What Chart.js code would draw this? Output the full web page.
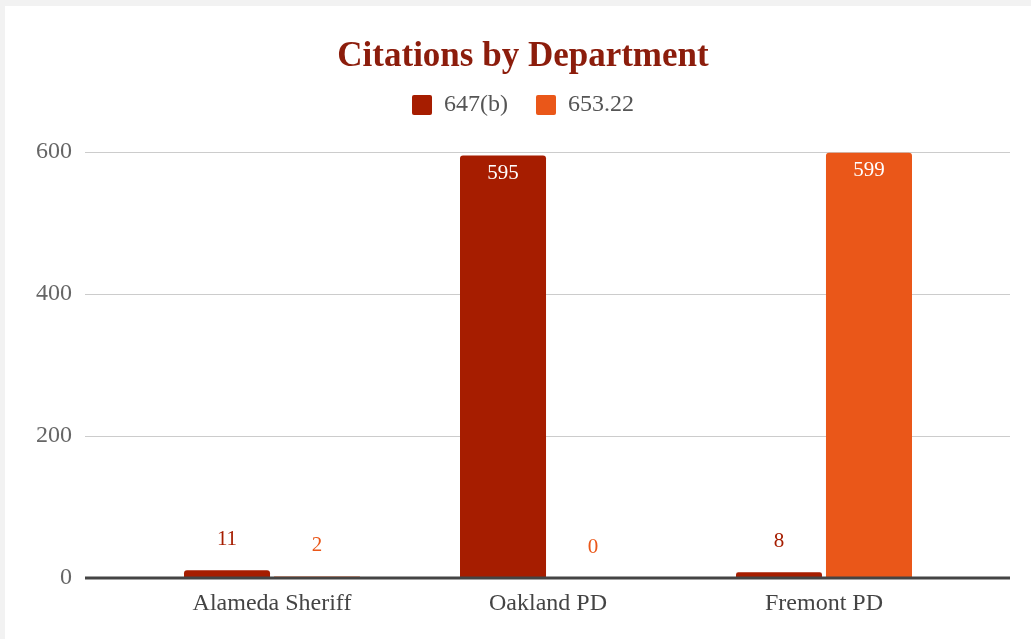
<!DOCTYPE html>
<html>
<head>
<meta charset="utf-8">
<script src="https://cdn.jsdelivr.net/npm/chart.js@4/dist/chart.umd.min.js"></script>
<style>
  html, body { margin: 0; padding: 0; background: #f2f2f2; overflow: hidden; }
  #wrap { position: absolute; left: 5px; top: 6px; width: 1026px; height: 633px; background: #ffffff; }
  canvas { display: block; }
</style>
</head>
<body>
<div id="wrap"><canvas id="c" width="1026" height="633"></canvas></div>
<script>
const categories = ['Alameda Sheriff', 'Oakland PD', 'Fremont PD'];
const series647b = [11, 595, 8];
const series65322 = [2, 0, 599];
const seriesNames = ['647(b)', '653.22'];
const yTicks = [0, 200, 400, 600];

const colors = ['#a61d00', '#ea5719'];
const FONT = "'Liberation Serif', 'Times New Roman', serif";

const dataLabels = {
  id: 'dataLabels',
  afterDatasetsDraw(chart) {
    const ctx = chart.ctx;
    const ca = chart.chartArea;
    ctx.save();
    // baseline (zero line) drawn over the bars
    const y0 = chart.scales.y.getPixelForValue(0);
    ctx.strokeStyle = '#444444';
    ctx.lineWidth = 2.8;
    ctx.beginPath();
    ctx.moveTo(ca.left - 49, y0);
    ctx.lineTo(ca.right + 48, y0);
    ctx.stroke();

    ctx.font = "21px " + FONT;
    ctx.textAlign = 'center';
    ctx.textBaseline = 'middle';
    chart.data.datasets.forEach((ds, di) => {
      const meta = chart.getDatasetMeta(di);
      meta.data.forEach((bar, i) => {
        const v = ds.data[i];
        const h = bar.base - bar.y;
        if (h > 60) {
          ctx.fillStyle = '#ffffff';
          ctx.fillText(String(v), bar.x, bar.y + 18);
        } else {
          ctx.fillStyle = ds.backgroundColor;
          ctx.fillText(String(v), bar.x, bar.y - 31);
        }
      });
    });
    ctx.restore();
  }
};

const legendSpace = {
  id: 'legendSpace',
  beforeInit(chart) {
    const lg = chart.legend;
    if (!lg) return;
    const fit = lg.fit;
    lg.fit = function () { fit.call(this); this.height += 25; };
  }
};

const gridColor = c => (c.tick && c.tick.value === 0) ? '#444444' : '#cccccc';
const gridWidth = c => (c.tick && c.tick.value === 0) ? 2 : 1;

new Chart(document.getElementById('c'), {
  type: 'bar',
  data: {
    labels: categories,
    datasets: [
      { label: seriesNames[0], data: series647b, backgroundColor: colors[0], borderRadius: 3, borderSkipped: 'start' },
      { label: seriesNames[1], data: series65322, backgroundColor: colors[1], borderRadius: 3, borderSkipped: 'start' }
    ]
  },
  options: {
    responsive: false,
    animation: false,
    layout: { padding: { left: 31, right: 21, top: 0, bottom: 0 } },
    datasets: { bar: { categoryPercentage: 0.652, barPercentage: 0.956 } },
    plugins: {
      title: {
        display: true,
        text: 'Citations by Department',
        color: '#8c1d0c',
        font: { family: FONT, size: 35, weight: 'bold' },
        padding: { top: 30, bottom: -13 }
      },
      legend: {
        display: true,
        labels: {
          color: '#555555',
          font: { family: FONT, size: 24 },
          boxWidth: 20,
          boxHeight: 20,
          useBorderRadius: true,
          borderRadius: 2,
          padding: 28
        }
      },
      tooltip: { enabled: false }
    },
    scales: {
      x: {
        grid: { display: false, drawTicks: false },
        border: { display: false },
        ticks: { color: '#444444', font: { family: FONT, size: 24 }, padding: 11 },
        afterFit: s => { s.height = 61; }
      },
      y: {
        min: 0, max: 600,
        afterBuildTicks: s => { s.ticks = yTicks.map(v => ({ value: v })); },
        grid: { color: gridColor, lineWidth: gridWidth, tickLength: 49, drawTicks: true },
        border: { display: false },
        ticks: { color: '#666666', font: { family: FONT, size: 24 }, padding: 13 },
        afterFit: s => { s.width = 98; }
      },
      y2: {
        position: 'right',
        min: 0, max: 600,
        afterBuildTicks: s => { s.ticks = yTicks.map(v => ({ value: v })); },
        grid: { color: gridColor, lineWidth: gridWidth, tickLength: 48, drawTicks: true, drawOnChartArea: false },
        border: { display: false },
        ticks: { display: false },
        afterFit: s => { s.width = 48; }
      }
    }
  },
  plugins: [dataLabels, legendSpace]
});
</script>
</body>
</html>
